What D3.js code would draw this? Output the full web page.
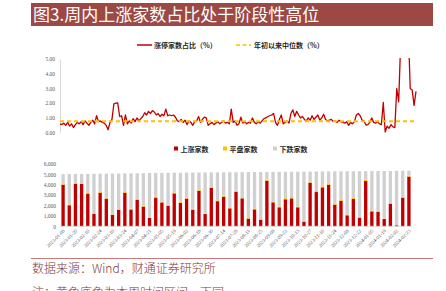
<!DOCTYPE html>
<html>
<head>
<meta charset="utf-8">
<script src="https://cdn.jsdelivr.net/npm/d3@7"></script>
<style>
  body { margin: 0; background: #fff; }
  svg { display: block; }
  .tick text { font-family: "Liberation Serif", "DejaVu Serif", serif; fill: #595959; }
</style>
</head>
<body>
<script>
// daily limit-up share (%)
const limitUpPct = [
  0.6,0.55,0.65,0.5,0.7,0.45,0.6,0.35,0.55,
  0.7,0.6,0.75,0.55,0.8,0.65,0.5,0.7,0.85,0.6,
  1.15,0.75,0.8,0.7,0.65,0.5,
  0.2,0.7,0.9,
  1.95,2.0,2.02,
  1.1,1.15,0.5,1.2,
  0.6,0.8,0.65,0.95,0.75,1.0,0.8,0.95,
  1.1,1.35,1.2,1.45,1.3,1.5,1.4,
  1.2,1.3,1.1,1.25,1.15,
  1.6,1.15,1.2,
  1.15,1.2,1.05,0.8,
  0.75,0.9,0.7,0.85,0.55,0.8,0.7,0.5,0.75,0.8,
  1.1,0.7,0.9,1.05,1.0,0.5,
  0.6,0.7,0.55,0.65,0.75,0.6,0.7,0.8,0.65,0.7,0.6,
  1.6,
  0.7,0.8,0.5,0.6,
  1.05,
  0.65,0.75,0.6,0.7,0.65,
  1.0,
  0.7,0.6,0.75,0.65,0.8,
  0.95,1.0,1.1,1.15,1.2,1.3,
  0.7,0.5,0.9,1.2,0.6,
  0.7,0.8,0.65,
  1.3,1.55,1.1,1.45,
  1.2,1.0,1.1,0.9,0.8,
  1.0,0.85,1.15,0.9,1.05,1.2,0.85,
  1.0,1.25,0.9,0.8,
  0.85,0.9,0.75,0.8,0.7,0.85,0.75,
  0.7,0.65,0.75,0.5,0.7,0.6,0.75,
  1.2,1.3,1.15,
  0.85,0.8,0.52,0.55,0.7,1.0,0.7,0.65,0.75,0.6,0.55,
  2.05,0.05,
  0.45,0.3,0.55,0.4,0.35,
  3.0,2.1,6.0,7.5,8.0,6.5,7.0,3.0,2.9,1.85,2.8
];
const medianPct = 0.78;

// weekly counts
const weeks = [
  "2023-01-06","2023-01-13","2023-01-20","2023-02-03","2023-02-10","2023-02-17","2023-02-24",
  "2023-03-03","2023-03-10","2023-03-17","2023-03-24","2023-03-31","2023-04-07","2023-04-14",
  "2023-04-21","2023-04-28","2023-05-05","2023-05-12","2023-05-19","2023-05-26","2023-06-02",
  "2023-06-09","2023-06-16","2023-06-21","2023-06-30","2023-07-07","2023-07-14","2023-07-21",
  "2023-07-28","2023-08-04","2023-08-11","2023-08-18","2023-08-25","2023-09-01","2023-09-08",
  "2023-09-15","2023-09-22","2023-09-28","2023-10-13","2023-10-20","2023-10-27","2023-11-03",
  "2023-11-10","2023-11-17","2023-11-24","2023-12-01","2023-12-08","2023-12-15","2023-12-22",
  "2023-12-29","2024-01-05","2024-01-12","2024-01-19","2024-01-26","2024-02-02","2024-02-08",
  "2024-02-23"
];
const upCount = [
  4000,2030,4100,4080,3150,1200,3220,2650,1100,1580,3230,1620,2560,1900,800,2760,2300,1980,3170,
  2260,2660,1600,3420,1180,3700,2420,2850,1730,3330,2690,740,1630,640,4390,2310,1830,2600,2690,
  1830,450,4200,3300,3750,4000,2080,2440,1060,2630,830,4360,1440,1380,700,2150,100,2760,4780
];
const flatCount = [
  90,80,100,70,120,60,110,90,50,70,120,80,100,90,60,110,100,90,100,120,110,80,90,60,100,80,120,
  90,100,110,60,90,50,110,100,90,110,120,80,40,100,90,110,120,80,110,70,100,60,120,80,90,50,100,
  30,80,90
];
const downCount = [
  940,2925,840,895,1780,3800,1735,2330,3930,3440,1750,3405,2450,3130,4270,2270,2745,3080,1890,
  2785,2400,3495,1670,3945,1390,2695,2230,3385,1780,2415,4420,3505,4540,735,2830,3325,2540,2445,
  3350,4775,970,1885,1420,1165,3130,2745,4170,2575,4420,835,3800,3855,4580,3085,5210,2505,480
];
const seriesNames = ["上涨家数", "平盘家数", "下跌家数"];
const seriesColors = ["#c00000", "#ffc000", "#d0d0d0"];

const W = 446, H = 291;
const svg = d3.select("body").append("svg").attr("width", W).attr("height", H);
svg.append("rect").attr("width", W).attr("height", H).attr("fill", "#fff");

// title bar
svg.append("rect").attr("x", 31).attr("y", 3).attr("width", 402).attr("height", 23).attr("fill", "#9c4844");
svg.append("text").attr("x", 33).attr("y", 21)
  .style("font-family", "'Noto Sans CJK SC'").style("font-size", "17px").attr("fill", "#fff")
  .text("图3.周内上涨家数占比处于阶段性高位");

const cjk = "'Noto Sans CJK SC', sans-serif";

// ---- top: line chart
const yTop = d3.scaleLinear().domain([0, 5]).range([132.7, 59]);
const xTop = d3.scaleLinear().domain([0, limitUpPct.length - 1]).range([60, 416]);

svg.append("g").attr("transform", "translate(60,0)")
  .call(d3.axisLeft(yTop).tickValues([0,1,2,3,4,5]).tickFormat(d3.format(".2f")).tickSize(0).tickPadding(5))
  .call(g => g.select(".domain").attr("stroke", "#d9d9d9"))
  .call(g => g.selectAll("text").style("font-size", "5.5px"));

svg.append("clipPath").attr("id", "clipTop").append("rect")
  .attr("x", 55).attr("y", 58).attr("width", 370).attr("height", 80);

svg.append("path").datum(limitUpPct)
  .attr("clip-path", "url(#clipTop)")
  .attr("fill", "none").attr("stroke", "#c00000").attr("stroke-width", 1.3).attr("stroke-linejoin", "round")
  .attr("d", d3.line().x((d, i) => xTop(i)).y(d => yTop(d)));

svg.append("line")
  .attr("x1", xTop(0)).attr("x2", xTop(limitUpPct.length - 1))
  .attr("y1", yTop(medianPct)).attr("y2", yTop(medianPct))
  .attr("stroke", "#ffc000").attr("stroke-width", 2).attr("stroke-dasharray", "4,3");

// top legend
svg.append("line").attr("x1", 137).attr("x2", 152).attr("y1", 45).attr("y2", 45)
  .attr("stroke", "#c00000").attr("stroke-width", 1.5);
svg.append("text").attr("x", 154).attr("y", 47.5).style("font-family", cjk).style("font-size", "7px")
  .style("font-weight", "bold").attr("fill", "#262626").text("涨停家数占比（%）");
svg.append("line").attr("x1", 236).attr("x2", 251).attr("y1", 45).attr("y2", 45)
  .attr("stroke", "#ffc000").attr("stroke-width", 1.5).attr("stroke-dasharray", "4,2.5");
svg.append("text").attr("x", 254).attr("y", 47.5).style("font-family", cjk).style("font-size", "7px")
  .style("font-weight", "bold").attr("fill", "#262626").text("年初以来中位数（%）");

// ---- bottom: stacked bars
const table = weeks.map((w, i) => ({ week: w, up: upCount[i], flat: flatCount[i], down: downCount[i] }));
const stack = d3.stack().keys(["up", "flat", "down"])(table);

const xBar = d3.scaleBand().domain(weeks).range([60, 412]).paddingInner(0.46).paddingOuter(0.23);
const yBar = d3.scaleLinear().domain([0, 6000]).range([226.3, 164]);

svg.append("g").attr("transform", "translate(56,0)")
  .call(d3.axisLeft(yBar).tickValues([0,1000,2000,3000,4000,5000,6000]).tickFormat(d3.format(",")).tickSize(0).tickPadding(0))
  .call(g => g.select(".domain").remove())
  .call(g => g.selectAll("text").style("font-size", "5.5px"));

svg.selectAll("g.series").data(stack).enter().append("g")
  .attr("fill", (d, i) => seriesColors[i])
  .selectAll("rect").data(d => d).enter().append("rect")
  .attr("x", d => xBar(d.data.week))
  .attr("width", xBar.bandwidth())
  .attr("y", d => yBar(d[1]))
  .attr("height", d => yBar(d[0]) - yBar(d[1]));

svg.append("line").attr("x1", 60).attr("x2", 412).attr("y1", yBar(0)).attr("y2", yBar(0))
  .attr("stroke", "#d9d9d9").attr("stroke-width", 0.8);

const xAxis = svg.append("g").attr("transform", `translate(0,${yBar(0)})`)
  .call(d3.axisBottom(xBar).tickValues(weeks.filter((w, i) => i % 2 === 0)).tickSize(0).tickPadding(0));
xAxis.select(".domain").remove();
xAxis.selectAll("text")
  .style("font-size", "5px")
  .attr("text-anchor", "end")
  .attr("dy", 0)
  .attr("transform", "translate(2,5) rotate(-45)");

// bottom legend
const lx = [174, 223, 273];
seriesNames.forEach((name, i) => {
  svg.append("rect").attr("x", lx[i]).attr("y", 146.5).attr("width", 4).attr("height", 4).attr("fill", seriesColors[i]);
  svg.append("text").attr("x", lx[i] + 6.5).attr("y", 151.5).style("font-family", cjk).style("font-size", "7px")
    .style("font-weight", "bold").attr("fill", "#262626").text(name);
});

// source notes
svg.append("line").attr("x1", 31).attr("x2", 433).attr("y1", 258.5).attr("y2", 258.5)
  .attr("stroke", "#c77a76").attr("stroke-width", 1);
svg.append("text").attr("x", 32).attr("y", 273).style("font-family", cjk).style("font-size", "12px")
  .style("font-weight", "300").attr("fill", "#7f3a36").text("数据来源：Wind，财通证券研究所");
svg.append("text").attr("x", 32).attr("y", 297).style("font-family", cjk).style("font-size", "12px")
  .style("font-weight", "300").attr("fill", "#7f3a36").text("注：黄色底色为本周时间区间，下同");
</script>
</body>
</html>
